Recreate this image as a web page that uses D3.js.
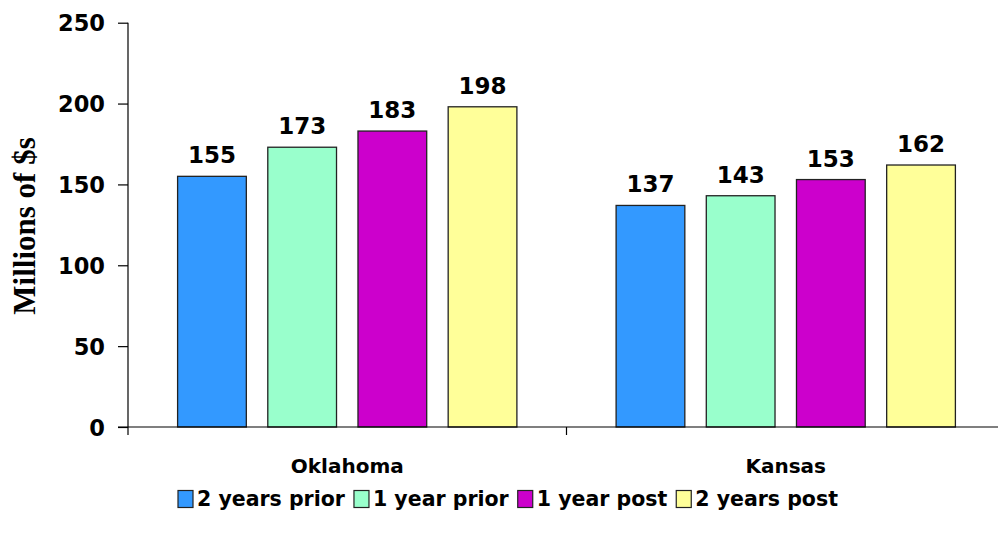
<!DOCTYPE html>
<html><head><meta charset="utf-8">
<script src="https://cdn.jsdelivr.net/npm/d3@7"></script>
<style>body{margin:0;background:#fff}svg{display:block}</style>
</head><body>
<svg id="c" width="998" height="536"></svg>
<script>
const categories = ["Oklahoma", "Kansas"];
const seriesNames = ["2 years prior", "1 year prior", "1 year post", "2 years post"];
const values2yPrior = [155, 137];
const values1yPrior = [173, 143];
const values1yPost = [183, 153];
const values2yPost = [198, 162];
const colors = ["#3399FF", "#99FFCC", "#CC00CC", "#FFFF99"];
const yTicks = [0, 50, 100, 150, 200, 250];
const yTitle = "Millions of $s";

const series = [values2yPrior, values1yPrior, values1yPost, values2yPost];
const svg = d3.select("#c");
const L = 128, R = 1005, T = 22.7, B = 427;
const font = "'DejaVu Sans', Verdana, sans-serif";

const x0 = d3.scaleBand().domain(categories).range([L, R]).paddingInner(0).paddingOuter(0);
const x1 = d3.scaleBand().domain(d3.range(series.length)).range([0, x0.bandwidth()]).paddingInner(0.238).paddingOuter(0.55);
const y = d3.scaleLinear().domain([0, 250]).range([B, T]);

// bars
categories.forEach((c, ci) => {
  series.forEach((s, si) => {
    svg.append("rect")
      .attr("x", x0(c) + x1(si)).attr("y", y(s[ci]))
      .attr("width", x1.bandwidth()).attr("height", y(0) - y(s[ci]))
      .attr("fill", colors[si]).attr("stroke", "#222").attr("stroke-width", 1.3);
    svg.append("text")
      .attr("x", x0(c) + x1(si) + x1.bandwidth() / 2).attr("y", y(s[ci]) - 13)
      .attr("text-anchor", "middle").attr("font-family", font).attr("font-weight", "bold")
      .attr("font-size", 23).attr("fill", "#000").text(s[ci]);
  });
});

// y axis
const yAxis = d3.axisLeft(y).tickValues(yTicks).tickSize(10).tickPadding(13).tickFormat(d3.format("d"));
const gy = svg.append("g").attr("transform", `translate(${L},0)`).call(yAxis);
gy.select(".domain").attr("d", `M0,${T}V${B + 8}`).attr("stroke", "#000").attr("stroke-width", 1.2);
gy.selectAll(".tick line").attr("stroke", "#000").attr("stroke-width", 1.2);
gy.selectAll(".tick text").attr("font-family", font).attr("font-weight", "bold").attr("font-size", 22.5).attr("fill", "#000").attr("dy", "0.36em");

// x axis
const gx = svg.append("g").attr("transform", `translate(0,${B})`);
gx.append("line").attr("x1", L - 10).attr("x2", R).attr("y1", 0).attr("y2", 0).attr("stroke", "#000").attr("stroke-width", 1.2);
[x0(categories[1])].forEach(px => {
  gx.append("line").attr("x1", px).attr("x2", px).attr("y1", 0).attr("y2", 8).attr("stroke", "#000").attr("stroke-width", 1.2);
});
categories.forEach(c => {
  gx.append("text").attr("x", x0(c) + x0.bandwidth() / 2).attr("y", 46)
    .attr("text-anchor", "middle").attr("font-family", font).attr("font-weight", "bold")
    .attr("font-size", 20).attr("fill", "#000").text(c);
});

// y title
svg.append("text").attr("transform", "translate(35,226) rotate(-90)")
  .attr("text-anchor", "middle").attr("font-family", "'Liberation Serif', 'Times New Roman', serif")
  .attr("font-weight", "bold").attr("font-size", 31).attr("fill", "#000").text(yTitle);

// legend
const lg = svg.append("g");
let lx = 178;
const ly = 499;
seriesNames.forEach((n, i) => {
  lg.append("rect").attr("x", lx).attr("y", ly - 8.5).attr("width", 15).attr("height", 17)
    .attr("fill", colors[i]).attr("stroke", "#222").attr("stroke-width", 1.2);
  const t = lg.append("text").attr("x", lx + 19).attr("y", ly).attr("dy", "0.36em")
    .attr("font-family", font).attr("font-weight", "bold").attr("font-size", 20.5).attr("fill", "#000").text(n);
  lx += 19 + t.node().getComputedTextLength() + 9;
});
</script>
</body></html>
